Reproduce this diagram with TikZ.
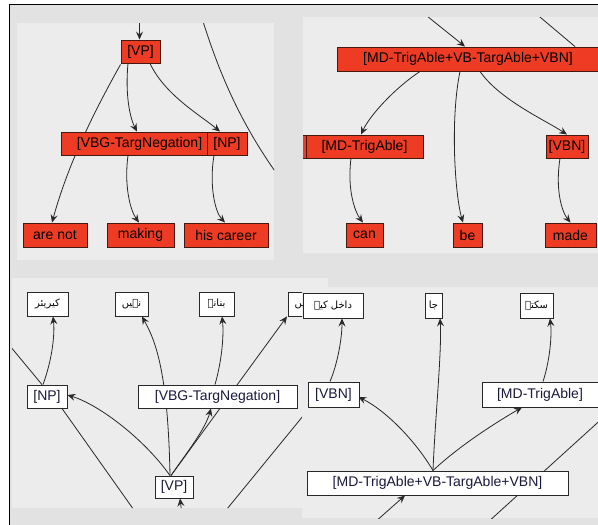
\documentclass[tikz,border=0pt]{standalone}
\usepackage{fontspec}
\setmainfont{Liberation Sans}
\newfontfamily\urdu[Script=Arabic]{DejaVu Sans}
\TeXXeTstate=1
\usetikzlibrary{arrows.meta,calc}
\pgfdeclarelayer{background}
\pgfdeclarelayer{edges}
\pgfsetlayers{background,edges,main}
\definecolor{bgc}{RGB}{226,226,226}
\definecolor{panelc}{RGB}{236,236,236}
\definecolor{redc}{RGB}{238,60,36}
\definecolor{redb}{RGB}{70,25,15}
\definecolor{linec}{RGB}{40,40,40}
\definecolor{txtc}{RGB}{25,25,60}
\tikzset{
 redbox/.style={draw=redb, line width=0.9pt, fill=redc, inner sep=0pt, font=\fontsize{14}{16}\selectfont, text=black},
 whbox/.style={draw=linec, line width=0.9pt, fill=white, inner sep=0pt, font=\fontsize{14}{16}\selectfont, text=txtc},
 urbox/.style={whbox, font=\urdu\fontsize{10}{12}\selectfont, text=black},
 conn/.style={draw=linec, line width=0.8pt},
 arr/.style={conn, -{Stealth[length=8pt,width=7pt,inset=3pt]}},
}
\begin{document}
\begin{tikzpicture}[x=1pt,y=-1pt]
\useasboundingbox (0,0) rectangle (598,525);
% ---------- background ----------
\begin{pgfonlayer}{background}
\fill[white] (0,0) rectangle (598,525);
\fill[bgc] (9.5,4) rectangle (598,525);
\draw[black, line width=1pt] (9.5,525) -- (9.5,4) -- (598,4);
\fill[panelc] (17,23) rectangle (274,260);
\fill[panelc] (303,17) rectangle (598,253);
\fill[panelc] (12,278) rectangle (328,508);
\fill[panelc] (302,287) rectangle (598,518);
\end{pgfonlayer}

% ---------- panel 1 : top left ----------
\begin{scope}
\clip (17,23) rectangle (274,260);
\node[redbox, minimum width=39pt, minimum height=23pt] (tVP) at (140.5,51.5) {[VP]};
\node[redbox, minimum width=157pt, minimum height=23pt] (tVBG) at (139.5,143.5) {[VBG-TargNegation]};
\node[redbox, minimum width=40pt, minimum height=23pt] (tNP) at (227,143.5) {[NP]};
\node[redbox, minimum width=64pt, minimum height=24pt] (tAre) at (55,235) {are not};
\node[redbox, minimum width=67pt, minimum height=24pt] (tMak) at (140.5,235) {making};
\node[redbox, minimum width=84pt, minimum height=24pt] (tHis) at (226,235) {his career};
\coordinate (tIn) at (139.5,15);
\coordinate (tLa) at (201,15);
\coordinate (tLb) at (285,185);
\end{scope}
\begin{pgfonlayer}{edges}
\begin{scope}
\clip (17,23) rectangle (274,260);
\draw[arr] (tIn) -- ($(tVP.north)+(-1,0)$);
\draw[arr] ($(tVP.south west)+(0,1)$) .. controls (90,119) and (67,168) .. ($(tAre.north)+(-3,0)$);
\draw[arr] ($(tVP.south)+(-12.5,0)$) .. controls (125,95) and (130,118) .. ($(tVBG.north)+(-2.5,0)$);
\draw[arr] ($(tVP.south)+(9.5,0)$) .. controls (165,95) and (200,115) .. ($(tNP.north)+(-7,0)$);
\draw[arr] ($(tVBG.south)+(-11.5,0)$) .. controls (124,185) and (130,210) .. ($(tMak.north)+(-1.5,0)$);
\draw[arr] ($(tNP.south)+(-13,0)$) .. controls (209,185) and (215,212) .. ($(tHis.north)+(-1,0)$);
\draw[conn] (tLa) .. controls (218,70) and (240,125) .. (tLb);
\end{scope}
\end{pgfonlayer}

% ---------- panel 2 : top right ----------
\begin{scope}
\clip (303,17) rectangle (598,253);
\node[redbox, minimum width=262pt, minimum height=24pt] (rBig) at (468,59) {[MD-TrigAble+VB-TargAble+VBN]};
\draw[draw=redb, line width=0.9pt, fill=redc] (298,135) rectangle (306,158);
\node[redbox, minimum width=117pt, minimum height=23pt] (rMD) at (364.5,146.5) {[MD-TrigAble]};
\node[redbox, minimum width=42pt, minimum height=23pt] (rVBN) at (567,146.5) {[VBN]};
\node[redbox, minimum width=37pt, minimum height=24pt] (rCan) at (364.5,235) {can};
\node[redbox, minimum width=29pt, minimum height=24pt] (rBe) at (467.5,235) {be};
\node[redbox, minimum width=51pt, minimum height=24pt] (rMade) at (570.5,235) {made};
\coordinate (rIn) at (422,12);
\coordinate (rIn2) at (534,12);
\end{scope}
\begin{pgfonlayer}{edges}
\begin{scope}
\clip (303,17) rectangle (598,253);
\draw[arr] (rIn) -- ($(rBig.north)+(-3,0)$);
\draw[conn] (rIn2) -- ($(rBig.north)+(107,0)$);
\draw[arr] ($(rBig.south)+(-48,0)$) .. controls (395,88) and (370,115) .. ($(rMD.north)+(-3.5,0)$);
\draw[arr] ($(rBig.south)+(-8,0)$) .. controls (450,120) and (455,195) .. ($(rBe.north)+(-4.5,0)$);
\draw[arr] ($(rBig.south)+(12,0)$) .. controls (500,100) and (545,120) .. (rVBN.north);
\draw[arr] ($(rMD.south)+(-13.5,0)$) .. controls (347,190) and (355,212) .. ($(rCan.north)+(-1.5,0)$);
\draw[arr] ($(rVBN.south)+(-7,0)$) .. controls (555,190) and (562,212) .. (rMade.north);
\end{scope}
\end{pgfonlayer}

% ---------- panel 3 : bottom left ----------
\begin{scope}
\clip (12,278) -- (328,278) -- (328,287) -- (302,287) -- (302,508) -- (12,508) -- cycle;
\node[urbox, minimum width=41pt, minimum height=24pt] (bKar) at (47.5,304) {\beginR کیریئر\endR};
\node[urbox, minimum width=33pt, minimum height=24pt] (bNah) at (131.5,304) {\beginR نہیں\endR};
\node[urbox, minimum width=35pt, minimum height=24pt] (bBan) at (216.5,304) {\beginR بنانے\endR};
\node[urbox, minimum width=30pt, minimum height=24pt] (bHai) at (303,304) {\beginR ہیں\endR};
\node[whbox, minimum width=40pt, minimum height=23pt] (bNP) at (47,396.5) {[NP]};
\node[whbox, minimum width=159pt, minimum height=23pt] (bVBG) at (217.5,396.5) {[VBG-TargNegation]};
\node[whbox, minimum width=38pt, minimum height=22pt] (bVP) at (174,487) {[VP]};
\coordinate (bE1) at (5,340);
\coordinate (bE2) at (141,520);
\coordinate (bE3) at (218,520);
\coordinate (bE4) at (312,405);
\coordinate (bE5) at (182,515);
\end{scope}
\begin{pgfonlayer}{edges}
\begin{scope}
\clip (12,278) -- (328,278) -- (328,287) -- (302,287) -- (302,508) -- (12,508) -- cycle;
\draw[arr] ($(bVP.north)+(-4,0)$) .. controls (168,370) and (155,340) .. ($(bNah.south)+(10.5,0)$);
\draw[arr] ($(bVP.north)+(-3,0)$) -- ($(bHai.south)+(-16,0)$);
\draw[arr] ($(bVP.north)+(-3,0)$) .. controls (185,455) and (205,430) .. ($(bVBG.south)+(-6.5,0)$);
\draw[arr] ($(bVP.north)+(-4,0)$) .. controls (145,440) and (100,405) .. ($(bNP.east)+(0,-1.5)$);
\draw[arr] ($(bNP.north)+(-4,0)$) .. controls (52,360) and (55,335) .. ($(bKar.south)+(5.5,0)$);
\draw[arr] ($(bVBG.north)+(-2.5,0)$) .. controls (222,360) and (224,335) .. ($(bBan.south)+(5.5,0)$);
\draw[conn] (bE1) -- ($(bNP.north)+(-5,0)$);
\draw[conn] ($(bNP.south)+(15,0)$) -- (bE2);
\draw[conn] (bE3) -- (bE4);
\draw[arr] (bE5) -- ($(bVP.south)+(6,0)$);
\end{scope}
\end{pgfonlayer}

% ---------- panel 4 : bottom right ----------
\begin{scope}
\clip (302,287) rectangle (598,518);
\node[urbox, minimum width=60pt, minimum height=25pt] (cDak) at (333,305.5) {\beginR داخل کیے\endR};
\node[urbox, minimum width=17pt, minimum height=25pt] (cJa) at (433.5,305.5) {\beginR جا\endR};
\node[urbox, minimum width=33pt, minimum height=25pt] (cSak) at (536.5,305.5) {\beginR سکتے\endR};
\node[whbox, minimum width=51pt, minimum height=25pt] (cVBN) at (333.5,394.5) {[VBN]};
\node[whbox, minimum width=116pt, minimum height=25pt] (cMD) at (540,394.5) {[MD-TrigAble]};
\node[whbox, minimum width=261pt, minimum height=24pt] (cBig) at (437.5,483) {[MD-TrigAble+VB-TargAble+VBN]};
\coordinate (cE1) at (374,523);
\coordinate (cE2) at (487,523);
\coordinate (cE3) at (606,415);
\end{scope}
\begin{pgfonlayer}{edges}
\begin{scope}
\clip (302,287) rectangle (598,518);
\draw[arr] ($(cVBN.north)+(-3.5,0)$) .. controls (337,365) and (342,340) .. ($(cDak.south)+(9,0)$);
\draw[arr] ($(cBig.north)+(-4.5,0)$) .. controls (415,440) and (385,410) .. ($(cVBN.east)+(-1,2.5)$);
\draw[arr] ($(cBig.north)+(-4.5,0)$) .. controls (435,420) and (442,350) .. ($(cJa.south)+(6.5,0)$);
\draw[arr] ($(cBig.north)+(-4.5,0)$) .. controls (460,445) and (500,420) .. ($(cMD.south)+(-18,0)$);
\draw[arr] ($(cMD.north)+(3,0)$) .. controls (550,360) and (552,335) .. ($(cSak.south)+(13.5,0)$);
\draw[arr] (cE1) -- ($(cBig.south)+(-32.5,0)$);
\draw[conn] (cE2) -- (cE3);
\end{scope}
\end{pgfonlayer}
\end{tikzpicture}
\end{document}
